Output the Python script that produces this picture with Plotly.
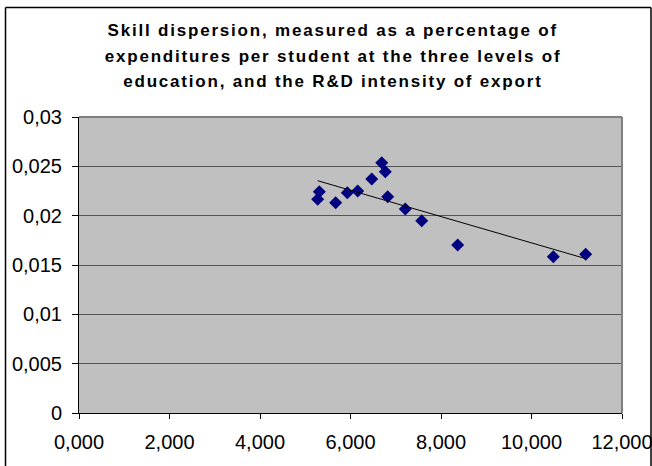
import numpy as np
import plotly.graph_objects as go

# Expenditure-based skill dispersion measure (x) and R&D intensity of export (y)
spending = [5311, 5275, 5673, 5929, 6159, 6469, 6690, 6769, 6822, 7211, 7574, 8369, 10482, 11198]
rd_intensity = [0.02243, 0.02166, 0.02131, 0.02233, 0.02250, 0.02372, 0.02537,
                0.02446, 0.02192, 0.02067, 0.01949, 0.01703, 0.01584, 0.01608]

x_tick_values = [0, 2000, 4000, 6000, 8000, 10000, 12000]
x_tick_labels = ["0,000", "2,000", "4,000", "6,000", "8,000", "10,000", "12,000"]
y_tick_values = [0, 0.005, 0.01, 0.015, 0.02, 0.025, 0.03]
y_tick_labels = ["0", "0,005", "0,01", "0,015", "0,02", "0,025", "0,03"]

title_lines = [
    "Skill dispersion, measured as a percentage of",
    "expenditures per student at the three levels of",
    "education, and the R&D intensity of export",
]

# Page geometry (pixels)
W, H = 652, 466
ML, MR, MT, MB = 79, 30, 117, 53
PW, PH = W - ML - MR, H - MT - MB


def to_paper_x(px):
    return (px - ML) / PW


def to_paper_y(py):
    return (H - MB - py) / PH


FONT = "Liberation Sans, Arial, sans-serif"

# Linear trend line over the observed x range
slope, intercept = np.polyfit(spending, rd_intensity, 1)
trend_x = [min(spending), max(spending)]
trend_y = [slope * v + intercept for v in trend_x]

fig = go.Figure()
fig.add_trace(go.Scatter(
    x=spending, y=rd_intensity, mode="markers",
    marker=dict(symbol="diamond", size=10, color="#000080", line=dict(width=0)),
    showlegend=False, hoverinfo="skip",
))
fig.add_trace(go.Scatter(
    x=trend_x, y=trend_y, mode="lines",
    line=dict(color="black", width=1),
    showlegend=False, hoverinfo="skip",
))

fig.update_layout(
    width=W, height=H,
    margin=dict(l=ML, r=MR, t=MT, b=MB, pad=0, autoexpand=False),
    paper_bgcolor="white",
    plot_bgcolor="#C0C0C0",
    font=dict(family=FONT, size=20, color="black"),
    xaxis=dict(
        range=[0, 12000], tickmode="array",
        tickvals=x_tick_values, ticktext=x_tick_labels,
        ticks="outside", ticklen=5, tickcolor="black", tickwidth=1,
        ticklabelstandoff=6, ticklabeloverflow="allow", automargin=False,
        showline=True, linecolor="black", linewidth=1,
        showgrid=False, zeroline=False, fixedrange=True,
    ),
    yaxis=dict(
        range=[0, 0.03], tickmode="array",
        tickvals=y_tick_values, ticktext=y_tick_labels,
        ticks="outside", ticklen=6, tickcolor="black", tickwidth=1,
        ticklabelstandoff=6, ticklabeloverflow="allow", automargin=False,
        showline=True, linecolor="black", linewidth=1,
        showgrid=True, gridcolor="#555555", gridwidth=1,
        zeroline=False, fixedrange=True,
    ),
)

# Gray border on the top and right of the plotting area
fig.add_shape(type="line", xref="paper", yref="paper", x0=0, x1=1, y0=1, y1=1,
              line=dict(color="#808080", width=2), layer="above")
fig.add_shape(type="line", xref="paper", yref="paper", x0=1, x1=1, y0=0, y1=1,
              line=dict(color="#808080", width=2), layer="above")

# Chart-area frame
frame_left, frame_right, frame_top, frame_bottom = 5.5, 651, 7.5, 470
for x0, y0, x1, y1 in [
    (frame_left, frame_top, frame_right, frame_top),
    (frame_left, frame_top, frame_left, frame_bottom),
    (frame_right, frame_top, frame_right, frame_bottom),
]:
    fig.add_shape(type="line", xref="paper", yref="paper",
                  x0=to_paper_x(x0), y0=to_paper_y(y0),
                  x1=to_paper_x(x1), y1=to_paper_y(y1),
                  line=dict(color="black", width=1.5), layer="above")

# Title, one annotation per line
for line_text, py in zip(title_lines, [30.5, 56.5, 81.5]):
    fig.add_annotation(
        text=line_text, xref="paper", yref="paper",
        x=to_paper_x(333), y=to_paper_y(py),
        xanchor="center", yanchor="middle", showarrow=False,
        font=dict(family=FONT, size=17, color="black", weight="bold"),
    )

spacing_js = (
    "var gd = document.getElementById('{plot_id}');"
    "gd.querySelectorAll('.annotation-text').forEach(function (t) {"
    "  t.style.letterSpacing = '1.8px';"
    "});"
)

fig.write_html("out.html", config={"displayModeBar": False}, post_script=spacing_js)
